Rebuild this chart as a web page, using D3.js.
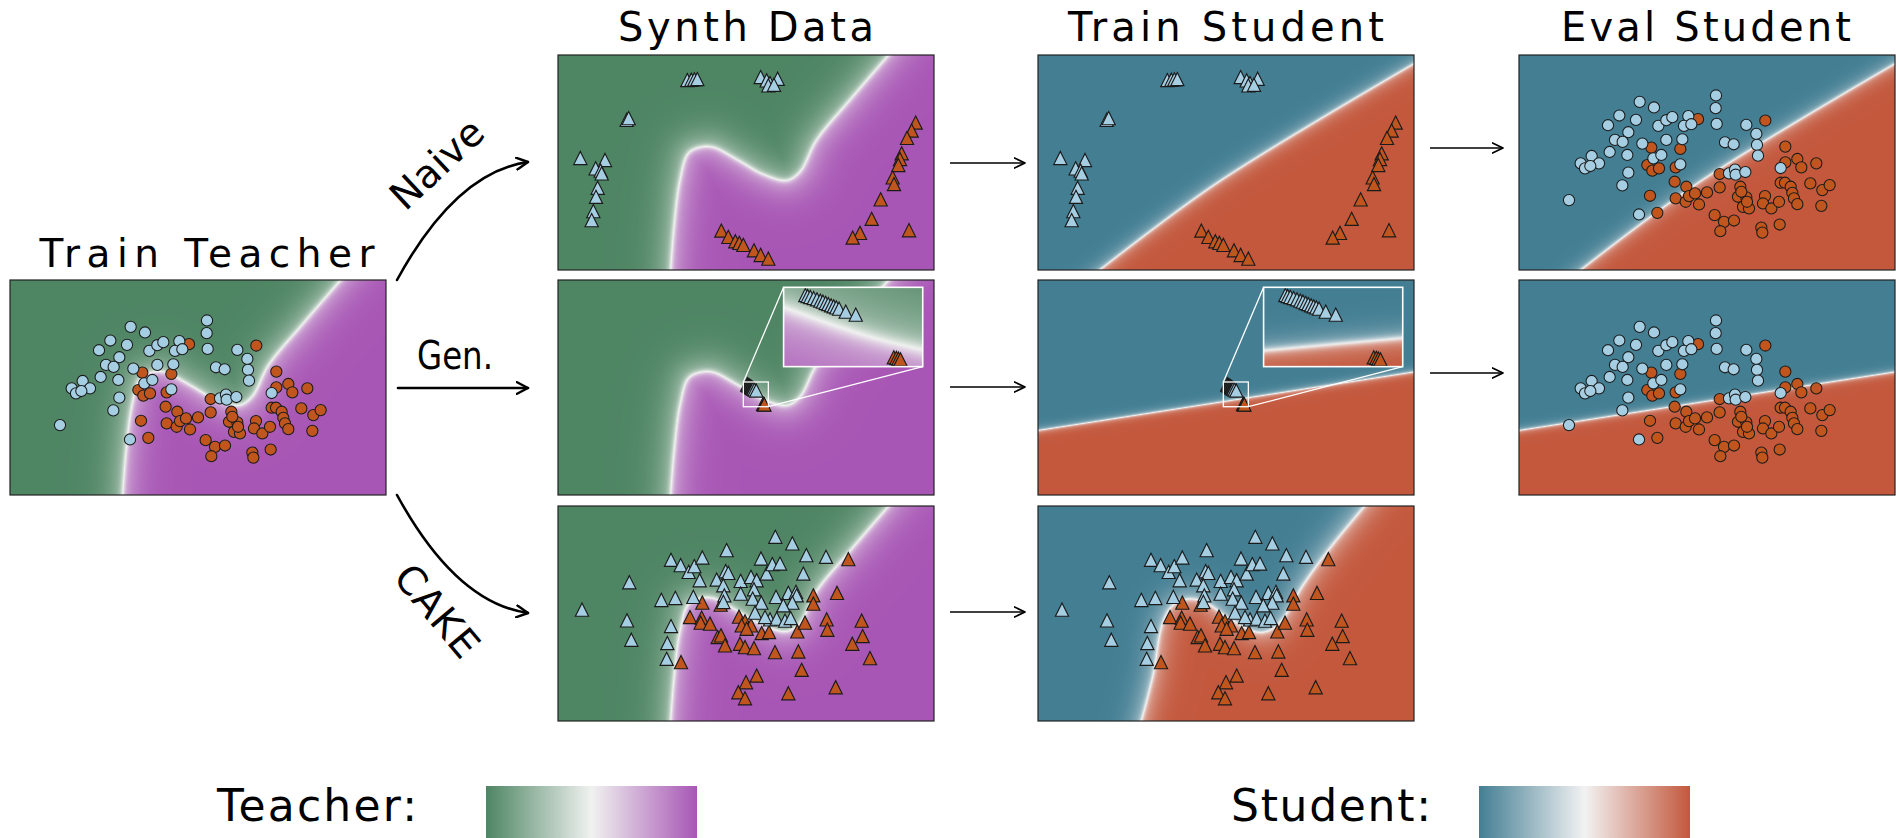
<!DOCTYPE html>
<html>
<head>
<meta charset="utf-8">
<script src="https://cdn.jsdelivr.net/npm/d3@7"></script>
<style>
  body { margin: 0; background: #fff; }
  svg { display: block; }
  text { font-family: "DejaVu Sans", Lato, sans-serif; fill: #000; }
</style>
</head>
<body>
<svg id="fig" width="1896" height="838"></svg>
<script>
// ---------------- data ----------------
// Real two-class dataset (teacher training set, also used for evaluation)
const realBlue = [[5.91,5.22],[5.90,4.84],[5.93,4.37],[3.62,5.03],[4.05,4.86],[3.01,4.62],[3.51,4.49],[2.67,4.33],[3.28,4.12],[2.88,3.89],[3.11,3.83],[2.72,3.53],[3.70,3.78],[4.42,3.89],[4.90,3.91],[4.18,4.31],[4.42,4.48],[4.60,4.57],[5.08,4.60],[4.95,4.31],[5.17,4.36],[6.82,4.34],[7.12,4.07],[7.14,3.74],[7.17,3.42],[6.18,3.82],[6.44,3.76],[3.25,3.44],[4.03,3.34],[4.27,3.44],[4.84,3.16],[3.28,2.91],[3.10,2.53],[1.85,3.19],[2.18,3.41],[2.40,3.19],[1.98,3.04],[2.14,3.11],[1.50,2.09],[3.60,1.66],[6.30,2.89],[6.48,3.00],[6.50,2.85],[6.79,2.93],[7.85,3.05]];
const realOrange = [[5.37,4.51],[7.39,4.47],[3.97,3.66],[4.84,3.62],[3.85,3.14],[4.00,2.97],[4.20,3.04],[4.70,3.07],[4.67,2.64],[5.02,2.49],[4.70,2.14],[5.00,2.04],[5.10,2.21],[5.28,2.29],[5.64,2.32],[5.40,1.96],[3.93,2.22],[4.15,1.71],[6.02,2.87],[6.02,2.47],[5.87,1.64],[6.15,1.44],[6.45,1.48],[6.04,1.16],[6.64,2.49],[6.57,2.19],[6.82,2.17],[6.72,1.89],[6.90,1.84],[6.84,2.04],[7.38,2.21],[7.32,1.99],[7.57,1.84],[7.80,2.04],[7.27,1.27],[7.30,1.12],[7.82,1.36],[7.99,3.69],[7.99,3.22],[8.35,3.32],[8.47,3.07],[8.92,3.19],[7.85,2.61],[7.98,2.61],[8.15,2.49],[8.20,2.31],[8.25,2.14],[8.35,1.97],[8.74,2.59],[9.10,2.39],[9.32,2.54],[9.07,1.92],[6.67,2.34]];

// Synthetic samples: naive inversion
const naiveBlue = [[3.88,5.68],[4.00,5.69],[4.09,5.70],[4.18,5.71],[6.08,5.77],[6.26,5.67],[6.36,5.59],[6.59,5.72],[6.31,5.52],[6.48,5.54],[2.06,4.49],[2.12,4.54],[0.67,3.35],[1.41,3.29],[1.13,3.04],[1.28,2.97],[1.31,2.89],[1.19,2.46],[1.14,2.19],[1.06,1.76],[1.01,1.49]];
const naiveOrange = [[10.73,4.41],[10.61,4.17],[10.47,3.95],[10.31,3.49],[10.26,3.32],[10.21,3.14],[10.04,2.77],[10.08,2.57],[9.68,2.11],[9.41,1.53],[9.06,1.11],[8.84,0.97],[10.53,1.19],[4.90,1.18],[5.11,0.99],[5.32,0.86],[5.44,0.81],[5.56,0.75],[5.88,0.59],[6.08,0.45],[6.31,0.34]];

// Synthetic samples: generator-based
const genBlue = [[5.677,3.308],[5.690,3.299],[5.704,3.290],[5.722,3.280],[5.740,3.268],[5.758,3.256],[5.772,3.246],[5.787,3.234],[5.801,3.224],[5.816,3.212],[5.830,3.203],[5.844,3.193],[5.859,3.181],[5.895,3.153],[5.949,3.125]];
const genOrange = [[6.154,2.727],[6.168,2.721],[6.179,2.714],[6.190,2.708]];

// Synthetic samples: CAKE
const cakeBlue = [[0.72,3.33],[2.14,4.15],[2.07,3.01],[2.20,2.43],[3.10,3.62],[3.52,3.68],[3.39,4.82],[3.68,4.66],[3.92,4.46],[4.09,4.63],[4.33,4.89],[4.25,4.21],[4.06,3.71],[3.39,2.84],[3.28,2.33],[3.26,1.86],[5.06,5.11],[5.03,4.48],[5.11,4.43],[4.76,4.23],[4.96,4.06],[4.99,3.76],[4.96,3.56],[5.48,4.19],[5.48,3.81],[5.79,4.31],[5.96,4.21],[5.88,3.94],[5.84,3.66],[6.09,4.86],[6.26,4.41],[6.43,4.69],[6.66,4.71],[6.10,3.54],[5.91,3.24],[6.52,5.51],[7.03,5.31],[7.45,4.96],[8.04,4.91],[7.36,4.41],[6.54,3.71],[6.91,3.83],[7.14,3.86],[7.16,3.76],[7.03,3.54],[6.76,3.46],[6.36,3.04],[6.56,3.06],[6.81,3.00],[6.98,3.08],[6.21,3.11]];
const cakeOrange = [[8.71,4.84],[7.66,3.76],[7.66,3.51],[8.37,3.83],[4.33,3.54],[4.88,3.48],[3.96,3.11],[4.31,3.09],[4.28,2.94],[4.56,2.91],[4.79,2.51],[4.89,2.56],[5.01,2.26],[5.43,3.12],[5.61,2.98],[5.79,2.86],[5.51,2.86],[5.66,2.76],[6.11,2.63],[6.33,2.66],[7.18,2.68],[7.41,2.94],[8.06,3.04],[8.08,2.73],[9.11,3.00],[9.14,2.54],[8.83,2.31],[9.36,1.88],[5.46,2.31],[5.61,2.21],[5.88,2.18],[6.51,2.06],[7.21,2.08],[3.69,1.76],[7.31,1.53],[5.96,1.36],[5.64,1.16],[5.41,0.86],[5.61,0.68],[6.91,0.83],[8.33,1.01]];

// Decision boundaries (points along the 0.5 level of each model)
const teacherBoundary = [[3.38,0],[3.48,1.29],[3.66,2.69],[3.91,3.49],[4.26,3.67],[4.66,3.67],[5.36,3.31],[6.16,2.86],[6.86,2.68],[7.26,2.94],[7.76,3.89],[8.76,5.09],[9.92,6.43]];
const studentNaiveBoundary = [[1.85,0],[5.35,2.59],[11.28,6.17]];
const studentGenBoundary = [[0,1.93],[11.28,3.68]];
const studentCakeBoundary = [[3.10,0],[3.45,1.36],[3.75,2.96],[4.05,3.46],[4.45,3.64],[4.95,3.58],[5.75,3.06],[6.55,2.66],[6.95,2.71],[7.35,3.06],[7.95,4.06],[8.75,5.16],[9.80,6.43]];

// Axis domains
const xDomain = [0, 11.28];
const yDomain = [0, 6.43];
const zoomXDomain = [5.56, 6.31];
const zoomYDomain = [2.64, 3.38];

// Colormaps
const teacherColors = ["#4e8563", "#f0f2f0", "#a856b5"];
const studentColors = ["#437e93", "#f2f2f2", "#c3583d"];
const blueFill = "#a6cee3";
const orangeFill = "#c0561e";

// ---------------- drawing ----------------
const svg = d3.select("#fig");
const defs = svg.append("defs");
const PW = 376, PH = 215;

function smoothPoints(pts) {
  const p = defs.append("path")
    .attr("d", d3.line().curve(d3.curveCatmullRom.alpha(0.5))
      .x(d => d[0] * 100).y(d => d[1] * 100)(pts));
  const node = p.node();
  const L = node.getTotalLength();
  const out = [];
  const n = 120;
  for (let i = 0; i <= n; i++) {
    const q = node.getPointAtLength(L * i / n);
    out.push([q.x / 100, q.y / 100]);
  }
  p.remove();
  return out;
}

// Signed soft score from a boundary polyline: negative on the left of travel, positive on the right
function makeModel(boundary, w1, w2, mix, smooth) {
  let pts = smooth ? smoothPoints(boundary) : boundary.slice();
  const ext = (a, b) => {
    const dx = a[0] - b[0], dy = a[1] - b[1], L = Math.hypot(dx, dy);
    return [a[0] + dx / L * 20, a[1] + dy / L * 20];
  };
  pts = [ext(pts[0], pts[1]), ...pts, ext(pts[pts.length - 1], pts[pts.length - 2])];
  const s = pts[0], e = pts[pts.length - 1];
  const dx = e[0] - s[0], dy = e[1] - s[1], L = Math.hypot(dx, dy);
  const nrm = [dy / L, -dx / L];
  const poly = [...pts, [e[0] + nrm[0] * 200, e[1] + nrm[1] * 200], [s[0] + nrm[0] * 200, s[1] + nrm[1] * 200]];
  const segs = [];
  for (let i = 0; i < pts.length - 1; i++) {
    const a = pts[i], b = pts[i + 1];
    const vx = b[0] - a[0], vy = b[1] - a[1];
    segs.push([a[0], a[1], vx, vy, vx * vx + vy * vy || 1e-9]);
  }
  return (x, y) => {
    let best = Infinity;
    for (let k = 0; k < segs.length; k++) {
      const sg = segs[k];
      let t = ((x - sg[0]) * sg[2] + (y - sg[1]) * sg[3]) / sg[4];
      t = t < 0 ? 0 : t > 1 ? 1 : t;
      const ex = sg[0] + t * sg[2] - x, ey = sg[1] + t * sg[3] - y;
      const d2 = ex * ex + ey * ey;
      if (d2 < best) best = d2;
    }
    const d = Math.sqrt(best) * (d3.polygonContains(poly, [x, y]) ? 1 : -1);
    return mix * Math.tanh(d / w1) + (1 - mix) * Math.tanh(d / w2);
  };
}

function makeLut(cols) {
  const sc = d3.scaleLinear().domain([-1, 0, 1]).range(cols).interpolate(d3.interpolateRgb);
  const lut = [];
  for (let i = 0; i <= 512; i++) {
    const c = d3.rgb(sc(i / 256 - 1));
    lut.push([c.r, c.g, c.b]);
  }
  return { lut, sc };
}

function fieldURL(model, lut, xs, ys, w, h) {
  const cv = document.createElement("canvas");
  cv.width = w; cv.height = h;
  const ctx = cv.getContext("2d");
  const im = ctx.createImageData(w, h);
  for (let j = 0; j < h; j++) {
    const y = ys.invert(j + 0.5);
    for (let i = 0; i < w; i++) {
      const v = model(xs.invert(i + 0.5), y);
      const c = lut[Math.max(0, Math.min(512, Math.round((v + 1) * 256)))];
      const k = (j * w + i) * 4;
      im.data[k] = c[0]; im.data[k + 1] = c[1]; im.data[k + 2] = c[2]; im.data[k + 3] = 255;
    }
  }
  ctx.putImageData(im, 0, 0);
  return cv.toDataURL();
}

const teacherMap = makeLut(teacherColors);
const studentMap = makeLut(studentColors);

const models = {
  teacher: { f: makeModel(teacherBoundary, 0.10, 0.65, 0.5, true), map: teacherMap },
  naive: { f: makeModel(studentNaiveBoundary, 0.06, 0.30, 0.6, true), map: studentMap },
  gen: { f: makeModel(studentGenBoundary, 0.04, 0.15, 0.6, false), map: studentMap },
  cake: { f: makeModel(studentCakeBoundary, 0.08, 0.50, 0.5, true), map: studentMap }
};

// Upward triangle marker, as wide as it is tall, centred on its bounding box
const triHalf = 6.6;
const triPath = d3.line()([[0, -triHalf], [triHalf, triHalf], [-triHalf, triHalf]]) + "Z";

function drawMarks(g, xs, ys, blue, orange, shape) {
  const sets = [[orange, orangeFill], [blue, blueFill]];
  sets.forEach(([pts, fill]) => {
    if (shape === "circle") {
      g.append("g").selectAll("circle").data(pts).join("circle")
        .attr("cx", d => xs(d[0])).attr("cy", d => ys(d[1])).attr("r", 5.6)
        .attr("fill", fill).attr("stroke", "#1b1b1b").attr("stroke-width", 1.05);
    } else {
      g.append("g").selectAll("path").data(pts).join("path")
        .attr("d", triPath)
        .attr("transform", d => `translate(${xs(d[0])},${ys(d[1])})`)
        .attr("fill", fill).attr("stroke", "#1b1b1b").attr("stroke-width", 1.15)
        .attr("stroke-linejoin", "miter");
    }
  });
}

let clipId = 0;
function panel(x, y, modelKey, blue, orange, shape, inset) {
  const m = models[modelKey];
  const g = svg.append("g").attr("transform", `translate(${x},${y})`);
  const xs = d3.scaleLinear().domain(xDomain).range([0, PW]);
  const ys = d3.scaleLinear().domain(yDomain).range([PH, 0]);
  const cid = "clip" + (clipId++);
  defs.append("clipPath").attr("id", cid).append("rect").attr("width", PW).attr("height", PH);
  const body = g.append("g").attr("clip-path", `url(#${cid})`);
  body.append("image").attr("width", PW).attr("height", PH)
    .attr("preserveAspectRatio", "none")
    .attr("href", fieldURL(m.f, m.map.lut, xs, ys, PW, PH));
  drawMarks(body, xs, ys, blue, orange, shape);

  if (inset) {
    const ix = PW * 0.6, iy = PH * 0.034, iw = PW * 0.37, ih = PH * 0.369;
    const zx = d3.scaleLinear().domain(zoomXDomain).range([0, iw]);
    const zy = d3.scaleLinear().domain(zoomYDomain).range([ih, 0]);
    const bx0 = xs(zoomXDomain[0]), bx1 = xs(zoomXDomain[1]);
    const by0 = ys(zoomYDomain[1]), by1 = ys(zoomYDomain[0]);
    // zoom marker box and connectors
    g.append("rect").attr("x", bx0).attr("y", by0).attr("width", bx1 - bx0).attr("height", by1 - by0)
      .attr("fill", "none").attr("stroke", "#fff").attr("stroke-width", 1.3);
    g.append("line").attr("x1", bx0).attr("y1", by0).attr("x2", ix).attr("y2", iy)
      .attr("stroke", "#fff").attr("stroke-width", 1.3);
    g.append("line").attr("x1", bx1).attr("y1", by1).attr("x2", ix + iw).attr("y2", iy + ih)
      .attr("stroke", "#fff").attr("stroke-width", 1.3);
    const ig = g.append("g").attr("transform", `translate(${ix},${iy})`);
    const icid = "clip" + (clipId++);
    defs.append("clipPath").attr("id", icid).append("rect").attr("width", iw).attr("height", ih);
    const ib = ig.append("g").attr("clip-path", `url(#${icid})`);
    ib.append("image").attr("width", iw).attr("height", ih)
      .attr("preserveAspectRatio", "none")
      .attr("href", fieldURL(m.f, m.map.lut, zx, zy, Math.round(iw), Math.round(ih)));
    drawMarks(ib, zx, zy, blue, orange, shape);
    ig.append("rect").attr("width", iw).attr("height", ih)
      .attr("fill", "none").attr("stroke", "#fff").attr("stroke-width", 1.6);
  }

  g.append("rect").attr("width", PW).attr("height", PH)
    .attr("fill", "none").attr("stroke", "#222").attr("stroke-width", 1.2);
}

const colX = [558, 1038, 1519];
const rowY = [55, 280, 506];

panel(10, 280, "teacher", realBlue, realOrange, "circle", false);
panel(colX[0], rowY[0], "teacher", naiveBlue, naiveOrange, "tri", false);
panel(colX[1], rowY[0], "naive", naiveBlue, naiveOrange, "tri", false);
panel(colX[2], rowY[0], "naive", realBlue, realOrange, "circle", false);
panel(colX[0], rowY[1], "teacher", genBlue, genOrange, "tri", true);
panel(colX[1], rowY[1], "gen", genBlue, genOrange, "tri", true);
panel(colX[2], rowY[1], "gen", realBlue, realOrange, "circle", false);
panel(colX[0], rowY[2], "teacher", cakeBlue, cakeOrange, "tri", false);
panel(colX[1], rowY[2], "cake", cakeBlue, cakeOrange, "tri", false);

// ---------------- titles ----------------
function label(txt, x, y, size, len, anchor, rot, adjust) {
  const t = svg.append("text").text(txt)
    .attr("font-size", size)
    .attr("text-anchor", anchor || "middle")
    .attr("textLength", len).attr("lengthAdjust", adjust || "spacing");
  if (rot) {
    t.attr("dominant-baseline", "central").attr("transform", `translate(${x},${y}) rotate(${rot})`);
  } else {
    t.attr("x", x).attr("y", y);
  }
  return t;
}
label("Train Teacher", 207, 267, 39, 335);
label("Synth Data", 746, 41, 40, 256);
label("Train Student", 1226, 41, 40, 316);
label("Eval Student", 1706, 41, 40, 290);
label("Gen.", 417, 369, 39, 76, "start", 0, "spacingAndGlyphs");
label("Naive", 437, 164, 39, 112, "middle", -43);
label("CAKE", 437, 611, 39, 108, "middle", 50);

// ---------------- arrows ----------------
function headMarker(id, len, half, sw) {
  defs.append("marker").attr("id", id)
    .attr("viewBox", `0 0 ${len + 2} ${half * 2 + 2}`)
    .attr("refX", len + 0.5).attr("refY", half + 1)
    .attr("markerWidth", len + 2).attr("markerHeight", half * 2 + 2)
    .attr("markerUnits", "userSpaceOnUse").attr("orient", "auto")
    .append("path").attr("d", `M1,1 L${len + 0.5},${half + 1} L1,${half * 2 + 1}`)
    .attr("fill", "none").attr("stroke", "#000").attr("stroke-width", sw)
    .attr("stroke-linecap", "round").attr("stroke-linejoin", "round");
}
headMarker("headBig", 12, 6, 2.4);
headMarker("headSmall", 11, 5, 1.7);

const bigArrows = [
  "M397,280 Q456,172 528,162",
  "M398,388 L528,388",
  "M397,495 Q456,603 528,613"
];
svg.append("g").selectAll("path").data(bigArrows).join("path")
  .attr("d", d => d).attr("fill", "none").attr("stroke", "#000")
  .attr("stroke-width", 2.6).attr("stroke-linecap", "round")
  .attr("marker-end", "url(#headBig)");

const smallArrows = [[950, 1025, 163], [1430, 1503, 148], [950, 1025, 387], [1430, 1503, 373], [950, 1025, 612]];
svg.append("g").selectAll("line").data(smallArrows).join("line")
  .attr("x1", d => d[0]).attr("x2", d => d[1]).attr("y1", d => d[2]).attr("y2", d => d[2])
  .attr("stroke", "#000").attr("stroke-width", 1.7)
  .attr("marker-end", "url(#headSmall)");

// ---------------- colour legends ----------------
function legend(title, tx, bx, map, gid) {
  label(title, tx, 821, 44, 200, "start");
  const gr = defs.append("linearGradient").attr("id", gid);
  d3.range(0, 1.0001, 0.05).forEach(o => {
    gr.append("stop").attr("offset", o).attr("stop-color", map.sc(o * 2 - 1));
  });
  svg.append("rect").attr("x", bx).attr("y", 786).attr("width", 211).attr("height", 60)
    .attr("fill", `url(#${gid})`);
}
legend("Teacher:", 217, 486, teacherMap, "gradTeacher");
legend("Student:", 1231, 1479, studentMap, "gradStudent");
</script>
</body>
</html>
